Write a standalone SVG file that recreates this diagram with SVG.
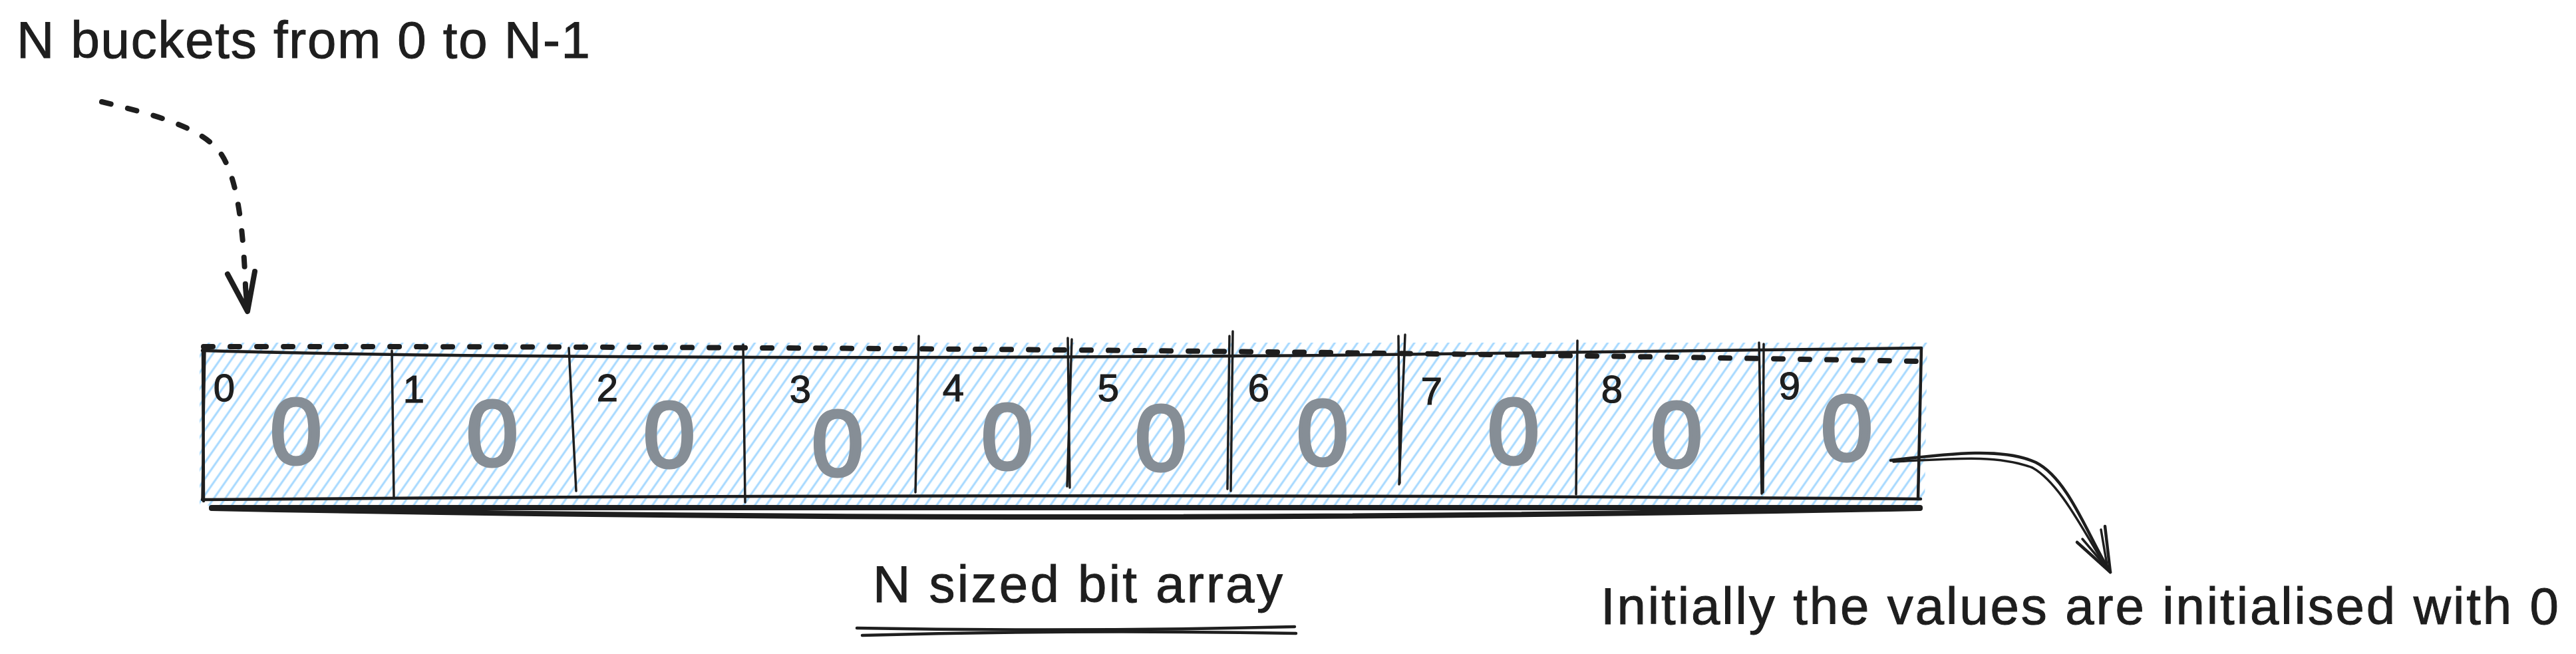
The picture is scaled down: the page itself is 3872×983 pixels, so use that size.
<svg xmlns="http://www.w3.org/2000/svg" width="3872" height="983" viewBox="0 0 3872 983">
  <defs>
    <pattern id="hach" patternUnits="userSpaceOnUse" width="14" height="14" patternTransform="rotate(-55)">
      <line x1="0" y1="7" x2="14" y2="7" stroke="#a5d8ff" stroke-width="3"/>
    </pattern>
    <style>
      .txt { font-family: "Liberation Sans", Arial, sans-serif; fill: #1e1e1e; }
      .lbl { font-size: 78px; stroke: #1e1e1e; stroke-width: 1; }
      .idx { font-size: 58px; text-anchor: middle; stroke: #1e1e1e; stroke-width: 1.2; }
      .val { font-family: "Liberation Sans", Arial, sans-serif; font-size: 140px; fill: #868e96; stroke: #868e96; stroke-width: 5; text-anchor: middle; }
      .ln { fill: none; stroke: #1e1e1e; stroke-linecap: round; stroke-linejoin: round; }
      .thin { stroke-width: 3.5; }
      .mid { stroke-width: 4.5; }
      .thick { stroke-width: 8; }
      .dash { stroke-width: 8; stroke-dasharray: 14 26; }
    </style>
  </defs>
  <rect width="3872" height="983" fill="#ffffff"/>

  <g id="title">
    <text class="txt lbl" x="25" y="87" textLength="862" lengthAdjust="spacing">N buckets from 0 to N-1</text>
  </g>

  <g id="bit-array">
    <polygon points="300,515 2897,515 2893,760 300,760" fill="url(#hach)"/>
    <path class="ln dash" d="M306,521 Q1600,520 2885,543"/>
    <path class="ln mid" d="M304,527 C 800,540 1500,538 2000,534 S 2700,528 2887,523"/>
    <path class="ln mid" d="M304,751 Q1600,740 2887,750"/>
    <path class="ln mid" d="M305,520 L306,753"/>
    <path class="ln thin" d="M308,524 L304,750"/>
    <path class="ln mid" d="M2888,523 L2883,750"/>
    <path class="ln thick" d="M318,763 Q1600,766 2886,763"/>
    <path class="ln thick" d="M318,764 Q1600,790 2886,764"/>
  </g>

  <g id="dividers">
    <path class="ln thin" d="M589,527 L592,747"/>
    <path class="ln thin" d="M855,523 L866,738"/>
    <path class="ln thin" d="M1117,518 L1120,755"/>
    <path class="ln thin" d="M1381,505 L1376,740"/>
    <path class="ln thin" d="M1605,508 L1608,733 M1611,510 L1604,731"/>
    <path class="ln thin" d="M1853,498 L1850,738 M1848,505 L1845,735"/>
    <path class="ln thin" d="M2112,503 L2103,728 M2102,505 L2104,726"/>
    <path class="ln thin" d="M2371,512 L2369,743"/>
    <path class="ln thin" d="M2644,515 L2648,742 M2651,517 L2650,740"/>
  </g>

  <g id="cell-0"><text class="txt idx" x="337" y="603">0</text><text class="val" x="445" y="697">0</text></g>
  <g id="cell-1"><text class="txt idx" x="622" y="605">1</text><text class="val" x="740" y="700">0</text></g>
  <g id="cell-2"><text class="txt idx" x="913" y="603">2</text><text class="val" x="1006" y="702">0</text></g>
  <g id="cell-3"><text class="txt idx" x="1203" y="605">3</text><text class="val" x="1259" y="715">0</text></g>
  <g id="cell-4"><text class="txt idx" x="1433" y="603">4</text><text class="val" x="1514" y="705">0</text></g>
  <g id="cell-5"><text class="txt idx" x="1666" y="603">5</text><text class="val" x="1745" y="707">0</text></g>
  <g id="cell-6"><text class="txt idx" x="1892" y="603">6</text><text class="val" x="1988" y="699">0</text></g>
  <g id="cell-7"><text class="txt idx" x="2152" y="608">7</text><text class="val" x="2275" y="697">0</text></g>
  <g id="cell-8"><text class="txt idx" x="2423" y="605">8</text><text class="val" x="2520" y="702">0</text></g>
  <g id="cell-9"><text class="txt idx" x="2690" y="600">9</text><text class="val" x="2776" y="692">0</text></g>

  <g id="array-label">
    <text class="txt lbl" x="1312" y="905" textLength="616" lengthAdjust="spacing">N sized bit array</text>
    <path class="ln mid" d="M1288,944 Q1620,950 1946,942"/>
    <path class="ln mid" d="M1296,955 Q1620,946 1948,952"/>
  </g>

  <g id="init-label">
    <text class="txt lbl" x="2406" y="938" textLength="1440" lengthAdjust="spacing">Initially the values are initialised with 0</text>
  </g>

  <g id="connectors">
    <path class="ln dash" d="M153,153 C 230,172 300,190 330,228 C 355,262 365,330 369,430"/>
    <path class="ln thick" d="M369,432 L372,466 M342,412 L372,468 L383,408"/>
    <path class="ln mid" d="M2842,692 C 2930,682 3010,672 3060,695 C 3110,720 3140,810 3172,860"/>
    <path class="ln thin" d="M2846,694 C 2930,690 3000,682 3055,703 C 3100,728 3138,812 3169,857"/>
    <path class="ln mid" d="M3122,815 L3172,860 L3164,791"/>
    <path class="ln thin" d="M3130,810 L3169,856 M3158,796 L3168,855"/>
  </g>
</svg>
